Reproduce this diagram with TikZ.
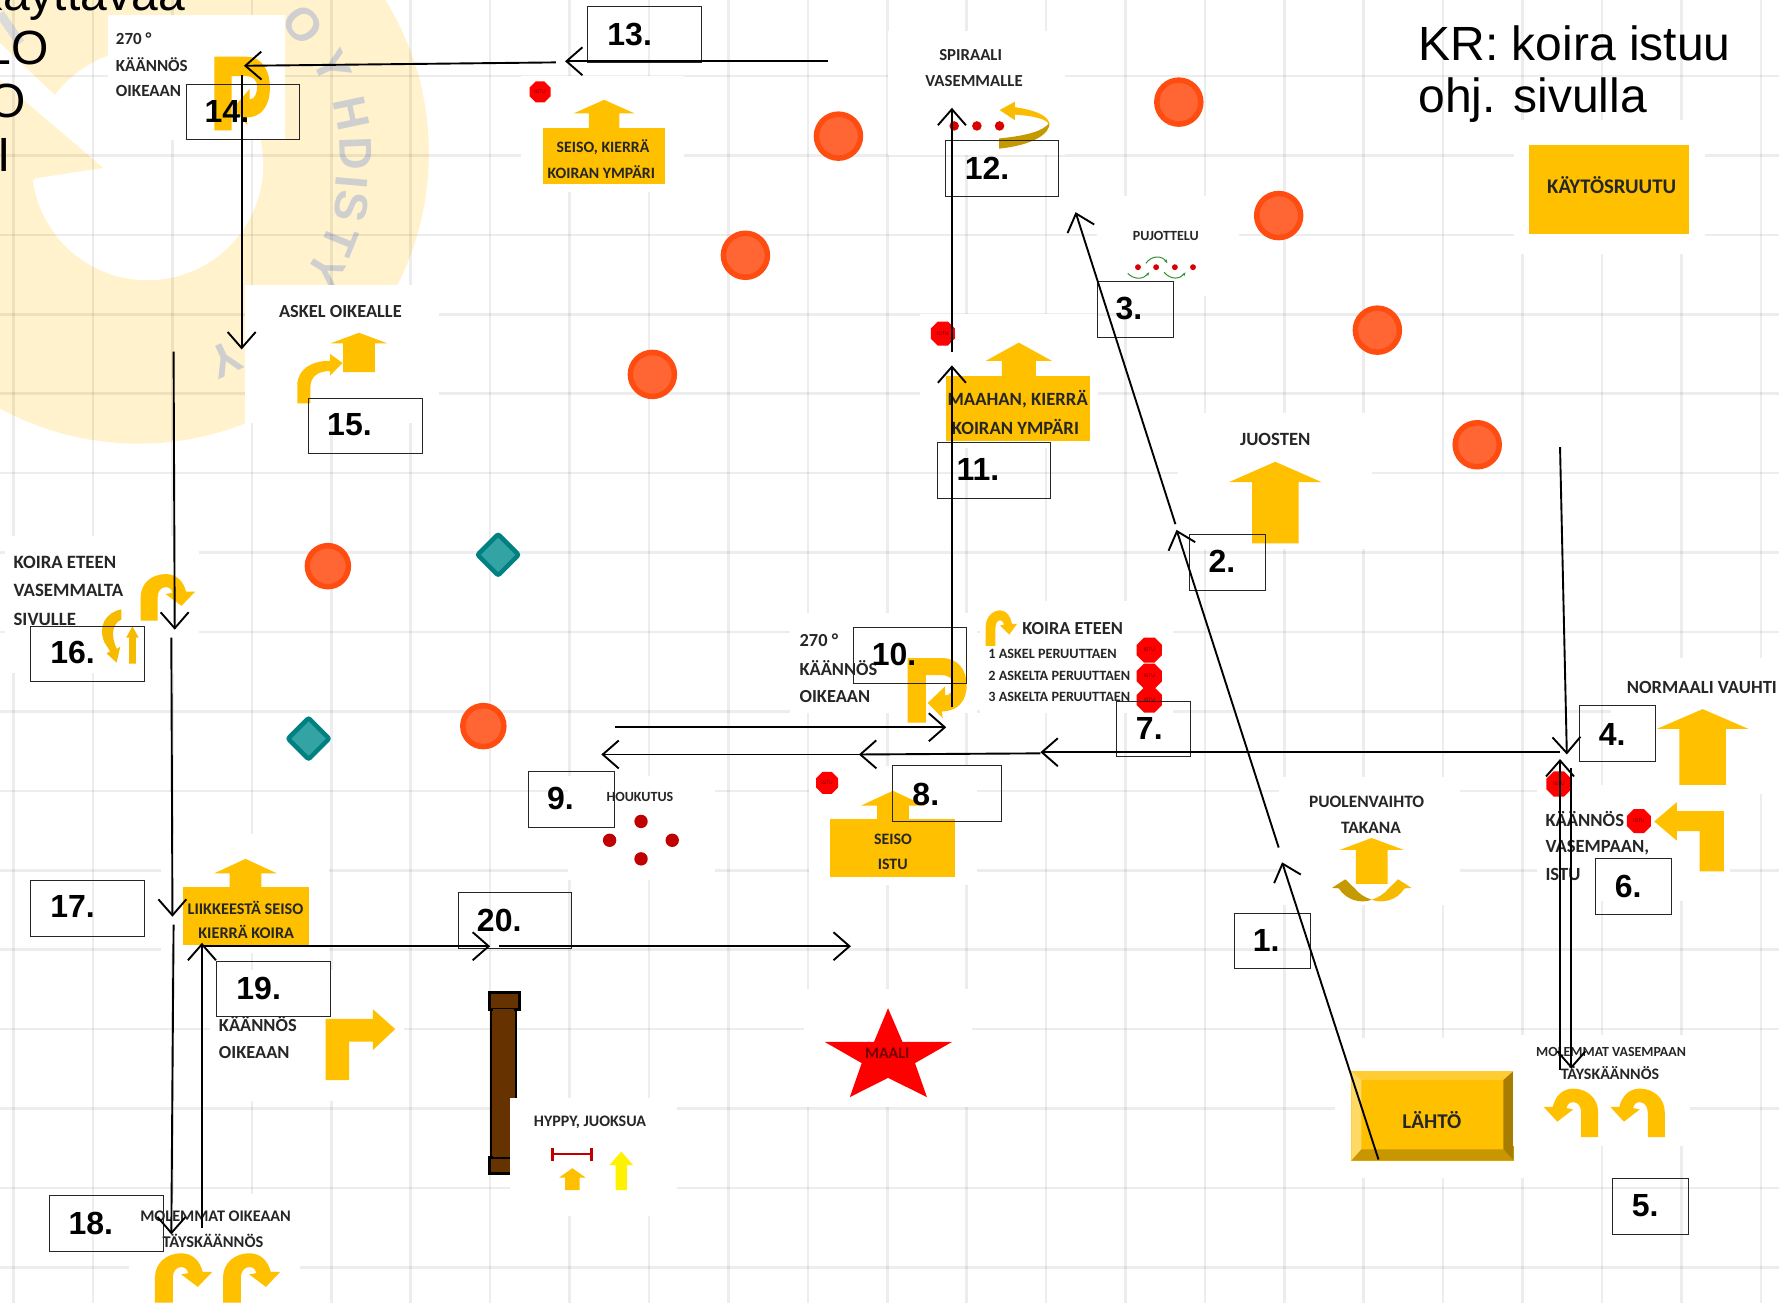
\documentclass[tikz,border=0pt]{standalone}
\usepackage{fontspec}
\setmainfont{Liberation Sans}
\newfontfamily\cardfont{Carlito}
\usetikzlibrary{arrows.meta,shapes.geometric}
\definecolor{gold}{HTML}{FFC000}
\definecolor{darkgold}{HTML}{C49A00}
\definecolor{paleyel}{HTML}{FFF2CC}
\definecolor{ringo}{HTML}{FF4D12}
\definecolor{fillo}{HTML}{FF6633}
\definecolor{tealb}{HTML}{008080}
\definecolor{tealf}{HTML}{33A3A3}
\definecolor{dotred}{HTML}{C00000}
\definecolor{cardink}{HTML}{262626}
\definecolor{hurdle}{HTML}{663300}
\tikzset{
  gridline/.style={black,opacity=.07,line width=2.6pt},
  ct/.style={font=\cardfont\bfseries\fontsize{#1}{#1}\selectfont,text=cardink,inner sep=0pt},
  numbox/.style={draw=black!85,line width=.9pt,fill=none,inner sep=0pt},
  numtext/.style={font=\bfseries\fontsize{32}{32}\selectfont,text=black,inner sep=0pt},
  bigtext/.style={font=\fontsize{48}{48}\selectfont,text=black,inner sep=0pt,anchor=base west},
  logotext/.style={font=\bfseries\fontsize{46}{46}\selectfont,text=black!19,inner sep=0pt},
  stopoct/.style={regular polygon,regular polygon sides=8,fill=red,inner sep=0pt,text=red!45!black,font=\fontsize{5}{5}\selectfont},
  cone/.style={circle,draw=ringo,fill=fillo,line width=5.5pt,inner sep=0pt},
  dia/.style={diamond,draw=tealb,fill=tealf,line width=4.5pt,inner sep=0pt,rounded corners=2pt},
  route/.style={line width=1.9pt,black,-{Straight Barb[length=16pt,width=28pt,line width=1.9pt]}},
}
\newcommand{\cardbox}[4]{\fill[white] (#1,#2) rectangle (#3,#4);}
\newcommand{\uparrowshape}[7]{\fill[#7] (#1,#2) -- ({#1+#4},#3) -- ({#1+#5},#3) -- ({#1+#5},#6) -- ({#1-#5},#6) -- ({#1-#5},#3) -- ({#1-#4},#3) -- cycle;}
% 270 degree turn: x, y, xscale, yscale
\newcommand{\pturn}[4]{\begin{scope}[shift={(#1,#2)},xscale=#3,yscale=#4]
 \fill[gold] (0,0) -- (30,0) .. controls (44,0) and (52,10) .. (52,24) .. controls (52,38) and (44,47) .. (30,47) -- (31,53) -- (17.6,39.6) -- (33,25) -- (33,33) .. controls (38,33) and (40,28) .. (40,23) .. controls (40,18) and (36,15) .. (30,15) -- (16,15) -- (16,57) -- (0,57) -- cycle;
 \end{scope}}
% U-turn arrow: x, y, xscale, yscale
\newcommand{\jturn}[4]{\begin{scope}[shift={(#1,#2)},xscale=#3,yscale=#4]
 \fill[gold] (0,41) -- (0,20) .. controls (0,8) and (10,0) .. (22,0) .. controls (32,0) and (38,7) .. (40,15.5) -- (48,15.5) -- (36,28) -- (22,17.6) -- (28,16.5) .. controls (27,13) and (25,11.5) .. (22,11.5) .. controls (18,11.5) and (15,15) .. (15,20) -- (15,41) -- cycle;
 \end{scope}}
\newcommand{\stopsign}[4]{\node[stopoct,minimum size=#4*2.27pt] (#1) at (#2,#3) {ISTU};}
\newcommand{\numbx}[7]{\node[numbox,minimum width={(#4-#2)*1.1346pt},minimum height={(#5-#3)*1.1346pt}] (box#1) at ({(#2+#4)/2},{(#3+#5)/2}) {};
 \node[numtext] (num#1) at (#6,#7) {#1.};}
\newcommand{\route}[5]{\coordinate (r#1s) at (#2,#3); \coordinate (r#1e) at (#4,#5); \draw[route] (r#1s) -- (r#1e);}
\begin{document}
\begin{tikzpicture}[x=1.1346pt,y=-1.1346pt]
\useasboundingbox (0,0) rectangle (1568,1148.4);
\fill[white] (0,0) rectangle (1568,1148.4);
% ---------- logo in the background
\begin{scope}
\clip (0,0) rectangle (1568,1148.4);
\fill[paleyel] (122,135) circle [radius=256];
\fill[white] (130,145) circle [radius=102];
\fill[white] (0,38) -- (48.5,84) -- (96,54) -- (180,60) -- (130,145) -- (91,148) -- (0,70.5) -- cycle;
\fill[paleyel] (0,70.5) -- (91,148) -- (32,157) -- (0,175) -- cycle;
\draw[black!14,line width=9pt] (0,12) -- (18,38);
\node[logotext,rotate=-52] (lg1) at (267,22) {O};
\node[logotext,rotate=-65] (lg2) at (293,59) {Y};
\node[logotext,rotate=-78] (lg3) at (310,100) {H};
\node[logotext,rotate=-88] (lg4) at (314,135) {D};
\node[logotext,rotate=-95] (lg5) at (310,161) {I};
\node[logotext,rotate=-100] (lg6) at (310,182) {S};
\node[logotext,rotate=-112] (lg7) at (300,212) {T};
\node[logotext,rotate=-122] (lg8) at (287,238) {Y};
\node[logotext,rotate=-155] (lg9) at (199,317) {Y};
\end{scope}
% ---------- grid
\foreach \gx in {12,82,...,1552} {\draw[gridline] (\gx,0) -- (\gx,1148.4);}
\foreach \gy in {67,137,...,1117} {\draw[gridline] (0,\gy) -- (1568,\gy);}
% ---------- cones and markers
\foreach \nm/\cx/\cy in {c1/739/120,c2/657/225,c3/575/330,c4/1039/90,c5/1127/190,c6/1214/291,c7/1302/392}
  {\node[cone,minimum size=44pt] (\nm) at (\cx,\cy) {};}
\foreach \nm/\cx/\cy in {c8/426/640,c9/289/499}
  {\node[cone,minimum size=41pt] (\nm) at (\cx,\cy) {};}
\node[dia,minimum size=43pt] (d1) at (439,489) {};
\node[dia,minimum size=43pt] (d2) at (272,651) {};
% ---------- hurdle
\draw[black,line width=2pt,fill=hurdle] (433,889) rectangle (454.5,1020);
\draw[black,line width=3pt,fill=hurdle] (431,875) rectangle (457.5,889.5);
\draw[black,line width=3pt,fill=hurdle] (431,1020) rectangle (457.5,1034.5);
\fill[hurdle] (434.5,889) rectangle (453,1020);
% ---------- cards
% 14 card
\cardbox{95}{13}{251}{123}
\node[ct=17,anchor=west] (a1) at (102,34) {270 °};
\node[ct=17,anchor=west] (a2) at (102,57) {KÄÄNNÖS};
\node[ct=17,anchor=west] (a3) at (102,80) {OIKEAAN};
\pturn{189}{50}{.94}{1.14}
% seiso kierra
\cardbox{459}{67}{603}{169}
\stopsign{s1}{476}{81}{10}
\uparrowshape{532.5}{88}{100}{27}{13.5}{113}{gold}
\fill[gold] (478.5,113) rectangle (586,162);
\node[ct=15.8] (b1) at (531.5,130) {SEISO, KIERRÄ};
\node[ct=15.8] (b2) at (530,151.5) {KOIRAN YMPÄRI};
% spiraali
\cardbox{783}{27}{939}{137}
\node[ct=16.8] (e1) at (855.5,48.5) {SPIRAALI};
\node[ct=16.8] (e2) at (858.5,71) {VASEMMALLE};
\foreach \nm/\dx in {e3/841,e4/861,e5/881} {\fill[red!85!black] (\dx,111) circle [radius=4.2];}
\fill[darkgold] (880.6,122) .. controls (902,120) and (920,116) .. (925,108) .. controls (926,118) and (910,128) .. (880.6,131) -- cycle;
\fill[gold!90!darkgold] (881,97) -- (894.6,89.6) -- (894.6,94.5) .. controls (912,97) and (925,102) .. (925,110) .. controls (922,104) and (908,102) .. (894.6,101) -- (894.6,106) -- cycle;
% pujottelu
\cardbox{967}{173}{1092}{261}
\node[ct=14] (f1) at (1027.5,208) {PUJOTTELU};
\foreach \dx in {1003,1019,1035.5,1051.5} {\fill[red!85!black] (\dx,235.5) circle [radius=2.6];}
\draw[green!45!black!80,line width=1pt,-{Stealth[length=4pt]}] (994,241) .. controls (1000,247) and (1008,246) .. (1013,240);
\draw[green!45!black!80,line width=1pt,-{Stealth[length=4pt]}] (1010,232) .. controls (1015,225) and (1024,225) .. (1029,232);
\draw[green!45!black!80,line width=1pt,-{Stealth[length=4pt]}] (1026,240) .. controls (1032,247) and (1040,246) .. (1045,240);
% kaytosruutu
\cardbox{1334}{106}{1503}{224}
\fill[gold] (1348,128) rectangle (1489,206);
\node[ct=20.8] (g1) at (1420.5,163) {KÄYTÖSRUUTU};
% maahan
\cardbox{811}{277}{968}{395}
\stopsign{s2}{831}{294}{11.5}
\uparrowshape{898}{302}{318}{29}{15}{335}{gold}
\fill[gold] (834,331) rectangle (961,389);
\node[ct=18.7] (h1) at (897,351.5) {MAAHAN, KIERRÄ};
\node[ct=18.7] (h2) at (895,376) {KOIRAN YMPÄRI};
% askel oikealle
\cardbox{216}{251}{387}{373}
\node[ct=18.4] (i1) at (300,275) {ASKEL OIKEALLE};
\uparrowshape{316.4}{293.3}{302.6}{25}{14}{328}{gold}
\fill[gold] (262,355.5) -- (262,340) .. controls (262,325) and (275,318) .. (291,318) -- (291,312) -- (302,320) -- (291,331) -- (291,327) .. controls (280,327) and (273.5,332) .. (273.5,342) -- (273.5,355.5) -- cycle;
% juosten
\cardbox{1038}{364}{1209}{484}
\node[ct=18.7] (j1) at (1124,387) {JUOSTEN};
\uparrowshape{1124}{407}{425}{41}{20.5}{479}{gold}
% koira eteen vasemmalta
\cardbox{4.4}{472.7}{175}{593}
\node[ct=18.8,anchor=west] (k1) at (11.8,496) {KOIRA ETEEN};
\node[ct=18.8,anchor=west] (k2) at (11.8,520.6) {VASEMMALTA};
\node[ct=18.8,anchor=west] (k3) at (11.8,545.8) {SIVULLE};
\jturn{124}{506}{1}{1}
\fill[gold!85!darkgold] (107,537) .. controls (93,540) and (86,552) .. (92,566) -- (97,574) -- (94,576) -- (102.8,584) -- (106,570) -- (103,572) .. controls (98,562) and (98,550) .. (107,546) -- cycle;
\uparrowshape{116.7}{552}{562}{5.5}{3}{585}{gold!85!darkgold}
% 270 card 10
\cardbox{696}{540}{861}{628.6}
\node[ct=18.4,anchor=west] (l1) at (704.6,564) {270 °};
\node[ct=18.4,anchor=west] (l2) at (704.6,589) {KÄÄNNÖS};
\node[ct=18.4,anchor=west] (l3) at (704.6,614) {OIKEAAN};
\pturn{800}{580}{1}{1}
% koira eteen 7
\cardbox{864}{530}{1034}{628}
\jturn{868.7}{538}{.58}{.76}
\node[ct=18.4,anchor=west] (m1) at (901,554.4) {KOIRA ETEEN};
\node[ct=14.2,anchor=west] (m2) at (871,576.4) {1 ASKEL PERUUTTAEN};
\node[ct=14.2,anchor=west] (m3) at (871,595.5) {2 ASKELTA PERUUTTAEN};
\node[ct=14.2,anchor=west] (m4) at (871,614.5) {3 ASKELTA PERUUTTAEN};
\stopsign{s3}{1013}{573}{12}
\stopsign{s4}{1013}{596}{12}
\stopsign{s5}{1013}{617}{12}
% normaali vauhti
\cardbox{1420}{580}{1568}{700}
\node[ct=18.6] (n1) at (1500,605.5) {NORMAALI VAUHTI};
\uparrowshape{1500.7}{625}{642.5}{40.5}{20.5}{696}{gold}
% seiso istu
\cardbox{712.6}{675}{861}{780}
\stopsign{s6}{729}{690}{10.5}
\uparrowshape{787}{697}{710}{28}{14}{722}{gold}
\fill[gold] (731.5,722) rectangle (842,772.6);
\node[ct=15.9] (o1) at (787,740) {SEISO};
\node[ct=15.9] (o2) at (786.8,761.7) {ISTU};
% houkutus
\cardbox{501}{684}{630}{776}
\node[ct=14] (p1) at (564,702) {HOUKUTUS};
\foreach \dx/\dy in {565/724,537.3/740.6,592.5/740.6,565/757} {\fill[dotred] (\dx,\dy) circle [radius=5.9];}
% puolenvaihto
\cardbox{1127}{685}{1287}{798}
\node[ct=17.4] (q1) at (1204.5,707) {PUOLENVAIHTO};
\node[ct=17.4] (q2) at (1208.4,730) {TAKANA};
\uparrowshape{1209}{738.6}{749}{28}{14}{779}{gold}
\fill[darkgold] (1174,782.6) -- (1185.7,775) -- (1194,783) .. controls (1198,788) and (1203,791) .. (1209,793) .. controls (1200,796.5) and (1187,794) .. (1180,783) -- cycle;
\fill[gold!85!darkgold] (1244,782.6) -- (1232.3,775) -- (1224,783) .. controls (1220,788) and (1215,791) .. (1209,793) .. controls (1218,796.5) and (1231,794) .. (1238,783) -- cycle;
% kaannos vasempaan istu
\cardbox{1355}{692}{1525}{794}
\stopsign{s7}{1374}{691}{12}
\node[ct=18.6,anchor=west] (r1) at (1362,722) {KÄÄNNÖS};
\node[ct=18.6,anchor=west] (r2) at (1362,747) {VASEMPAAN,};
\node[ct=18.6,anchor=west] (r3) at (1362,771) {ISTU};
\stopsign{s8}{1444.5}{723.7}{11.5}
\fill[gold] (1458,724) -- (1478,707) -- (1478,715) -- (1519.5,715) -- (1519.5,768) -- (1498,768) -- (1498,732.6) -- (1478,732.6) -- (1478,741) -- cycle;
% liikkeesta
\cardbox{142}{735}{290}{840}
\uparrowshape{216.4}{757}{769.7}{27.5}{14}{782}{gold}
\fill[gold] (161,782) rectangle (272,833);
\node[ct=16.3] (t1) at (216.4,800.3) {LIIKKEESTÄ SEISO};
\node[ct=16.3] (t2) at (217,821.4) {KIERRÄ KOIRA};
% kaannos oikeaan
\cardbox{185}{855}{356}{970}
\node[ct=18.4,anchor=west] (u1) at (192.8,903) {KÄÄNNÖS};
\node[ct=18.4,anchor=west] (u2) at (192.8,928) {OIKEAAN};
\fill[gold] (287,952) -- (287,898) -- (328.6,898) -- (328.6,889.5) -- (348.3,907) -- (328.6,925.6) -- (328.6,918) -- (307.7,918) -- (307.7,952) -- cycle;
% maali
\cardbox{708.6}{872}{856.6}{976}
\fill[red] (782.7,888.6) -- (795.5,918.4) -- (839,918.4) -- (806.5,937) -- (817,967) -- (782.7,950) -- (749,967) -- (759.5,937) -- (727,918.4) -- (770.3,918.4) -- cycle;
\node[ct=16,text=red!45!black] (v1) at (782,928.5) {MAALI};
% lahto
\cardbox{1177}{915}{1346}{1038}
\fill[gold] (1191,944) rectangle (1334,1023);
\fill[gold!80!white] (1191,944) -- (1334,944) -- (1325,952) -- (1200,952) -- cycle;
\fill[gold!60!white] (1191,944) -- (1200,952) -- (1200,1013) -- (1191,1023) -- cycle;
\fill[gold!65!black] (1334,944) -- (1325,952) -- (1325,1013) -- (1334,1023) -- cycle;
\fill[gold!78!black] (1191,1023) -- (1200,1013) -- (1325,1013) -- (1334,1023) -- cycle;
\node[ct=21] (w1) at (1262,987) {LÄHTÖ};
% molemmat vasempaan
\cardbox{1333.6}{912}{1489.6}{1010}
\node[ct=13.9] (x1) at (1420,927) {MOLEMMAT VASEMPAAN};
\node[ct=16] (x2) at (1419,946) {TÄYSKÄÄNNÖS};
\jturn{1408.6}{959.5}{-1}{1.04}
\jturn{1467.3}{959.5}{-1}{1.04}
% hyppy
\cardbox{449.5}{968}{596.4}{1072}
\node[ct=16] (y1) at (520,989) {HYPPY, JUOKSUA};
\draw[dotred,line width=2.2pt] (487,1017) -- (521.3,1017);
\draw[dotred,line width=3pt] (487,1012) -- (487,1023.5);
\draw[dotred,line width=3pt] (521.3,1012) -- (521.3,1023.5);
\uparrowshape{504.5}{1029.6}{1038}{11.8}{6.3}{1049}{gold}
\uparrowshape{547.6}{1015}{1027}{10.6}{5}{1049}{yellow}
% molemmat oikeaan
\cardbox{114}{1052}{264}{1148.4}
\node[ct=16.2] (z1) at (190,1072) {MOLEMMAT OIKEAAN};
\node[ct=16.4] (z2) at (187.7,1093.5) {TÄYSKÄÄNNÖS};
\jturn{136.6}{1104.6}{1.05}{1.06}
\jturn{196.6}{1104.6}{1.05}{1.06}
% ---------- big texts
\node[bigtext,anchor=base east] (tt1) at (163,9) {Käyttävää};
\node[bigtext,anchor=base east] (tt2) at (43,57) {LO};
\node[bigtext,anchor=base east] (tt3) at (23,104) {O};
\node[bigtext,anchor=base east] (tt4) at (10,151) {I};
\node[bigtext] (tt5) at (1250,53) {KR: koira istuu};
\node[bigtext] (tt6) at (1250,99) {ohj. sivulla};
% ---------- number boxes
\numbx{1}{1088}{805}{1155}{854}{1116}{829}
\numbx{2}{1048}{471}{1115}{520}{1077}{495}
\numbx{3}{967}{248}{1034}{297}{995}{272}
\numbx{4}{1392}{622}{1459}{671}{1421}{647}
\numbx{5}{1421}{1039}{1488}{1088}{1450}{1063}
\numbx{6}{1406}{757}{1473}{806}{1435}{781}
\numbx{7}{984}{618}{1049}{667}{1013}{642}
\numbx{8}{787}{675}{883}{724}{816}{700}
\numbx{9}{466}{680}{542}{729}{494}{704}
\numbx{10}{752}{553}{852}{602}{788}{577}
\numbx{11}{826}{390}{926}{439}{862}{414}
\numbx{12}{833}{124}{933}{173}{870}{148}
\numbx{13}{518}{6}{618}{55}{555}{30}
\numbx{14}{164}{74}{264}{123}{200}{98}
\numbx{15}{272}{351}{372}{400}{308}{374}
\numbx{16}{27}{552}{127}{601}{64}{575}
\numbx{17}{27}{776}{127}{825}{64}{799}
\numbx{18}{44}{1054}{144}{1103}{80}{1078}
\numbx{19}{191}{847}{291}{896}{228}{871}
\numbx{20}{404}{787}{504}{836}{440}{811}
% ---------- route
\route{1}{1215}{1022}{1130}{760}
\route{2}{1127}{747}{1037}{467}
\route{3}{1036}{462}{948}{187}
\route{4}{1375}{394}{1381}{665}
\route{5}{1385}{677}{1385}{942}
\route{6}{1375}{943}{1375}{669}
\route{7}{1375}{663}{917}{663}
\route{8}{917}{664}{757}{665}
\route{9}{757}{665}{530}{665}
\route{10}{542}{641}{834}{641}
\route{11}{839}{623}{839}{322}
\route{12}{839}{310}{839}{95}
\route{13}{730}{54}{498}{54}
\route{14}{490}{55}{215}{58}
\route{15}{213}{66}{213}{308}
\route{16}{153}{310}{154}{555}
\route{17}{151}{562}{152}{808}
\route{18}{153}{815}{151}{1088}
\route{19}{178}{1082}{178}{831}
\route{20}{178}{834}{432}{834}
\route{21}{440}{834}{750}{834}
\end{tikzpicture}
\end{document}
